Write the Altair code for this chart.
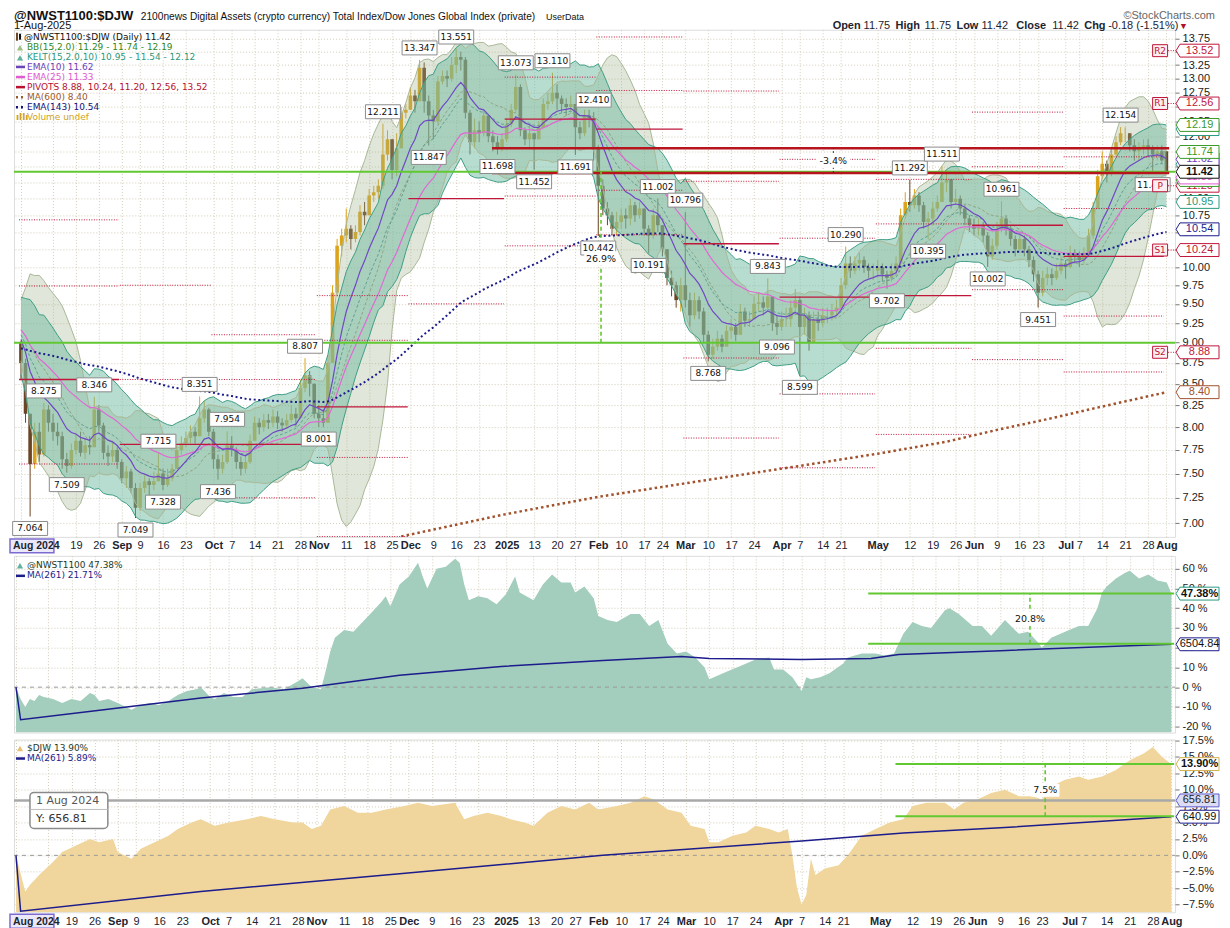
import altair as alt
import pandas as pd

# ===================== DATA =====================
closes = [
    8.75, 8.15, 7.60, 7.95, 7.70, 8.20, 8.05, 7.95, 7.90, 7.65,
    7.58, 7.75, 7.85, 7.72, 7.80, 7.78, 8.20, 8.02, 7.72, 7.68,
    7.75, 7.62, 7.45, 7.52, 7.35, 7.15, 7.35, 7.42, 7.38, 7.42,
    7.50, 7.38, 7.45, 7.55, 7.75, 7.82, 7.88, 7.95, 7.90, 8.10,
    8.20, 7.95, 7.65, 7.55, 7.62, 7.80, 7.75, 7.62, 7.55, 7.62,
    7.85, 8.05, 8.00, 8.08, 8.05, 8.12, 8.05, 8.02, 8.08, 8.15,
    8.10, 8.45, 8.60, 8.50, 8.15, 8.10, 8.05, 8.75, 9.65, 10.30,
    10.45, 10.55, 10.40, 10.50, 10.80, 10.75, 11.05, 11.10, 11.20, 11.70,
    11.95, 11.45, 11.80, 12.40, 12.45, 12.70, 12.60, 13.20, 12.60, 12.35,
    12.25, 12.95, 13.05, 13.00, 13.25, 13.40, 13.35, 12.40, 11.90, 12.10,
    12.05, 12.35, 12.00, 11.90, 11.80, 11.95, 12.20, 12.45, 12.85, 12.10,
    11.95, 12.05, 11.95, 12.15, 12.55, 12.60, 12.75, 12.65, 12.55, 12.50,
    12.55, 12.15, 12.05, 12.35, 12.30, 11.80, 11.20, 10.85, 10.75, 10.55,
    10.65, 10.75, 10.70, 10.90, 10.75, 10.85, 10.55, 10.45, 10.75, 10.60,
    10.25, 9.85, 9.75, 9.55, 9.75, 9.55, 9.35, 9.55, 9.40, 9.10,
    8.85, 8.95, 9.05, 8.95, 9.15, 9.20, 9.10, 9.40, 9.28, 9.30,
    9.50, 9.52, 9.45, 9.60, 9.25, 9.20, 9.30, 9.30, 9.45, 9.55,
    9.20, 9.35, 9.00, 9.30, 9.25, 9.35, 9.35, 9.40, 9.45, 9.75,
    10.05, 9.95, 10.05, 10.10, 10.00, 9.95, 9.95, 10.00, 9.90, 9.85,
    9.95, 10.05, 10.75, 10.95, 10.90, 11.05, 10.90, 10.65, 10.70, 10.85,
    10.95, 11.25, 11.30, 10.95, 11.00, 10.85, 10.70, 10.60, 10.55, 10.60,
    10.45, 10.15, 10.30, 10.55, 10.70, 10.55, 10.40, 10.25, 10.40, 10.25,
    10.10, 9.90, 9.65, 9.85, 9.90, 9.85, 9.95, 10.05, 10.00, 10.20,
    10.15, 10.10, 10.20, 10.45, 10.85, 11.35, 11.55, 11.40, 11.70, 11.90,
    12.05, 12.05, 11.85, 11.75, 11.80, 11.85, 11.80, 11.70, 11.75, 11.60,
    11.42,
]
highs = [
    9.02, 8.80, 8.10, 8.05, 8.05, 8.275, 8.25, 8.15, 8.05, 7.95,
    7.72, 7.82, 7.92, 7.95, 7.88, 7.90, 8.346, 8.25, 8.05, 7.80,
    7.85, 7.78, 7.65, 7.58, 7.55, 7.40, 7.40, 7.48, 7.45, 7.52,
    7.715, 7.55, 7.55, 7.60, 7.80, 7.90, 7.95, 8.02, 8.00, 8.351,
    8.30, 8.22, 7.98, 7.70, 7.70, 7.954, 7.90, 7.78, 7.68, 7.70,
    7.92, 8.12, 8.10, 8.15, 8.15, 8.20, 8.18, 8.10, 8.15, 8.25,
    8.22, 8.55, 8.807, 8.65, 8.50, 8.25, 8.20, 8.85, 9.75, 10.40,
    10.55, 10.85, 10.60, 10.60, 10.90, 10.95, 11.15, 11.20, 11.30, 12.211,
    12.10, 11.95, 12.05, 12.50, 12.55, 12.85, 12.80, 13.347, 13.30, 12.70,
    12.45, 13.05, 13.15, 13.15, 13.40, 13.551, 13.50, 13.40, 12.45, 12.30,
    12.25, 12.45, 12.35, 12.10, 12.00, 12.05, 12.30, 12.55, 13.073, 12.90,
    12.15, 12.20, 12.05, 12.25, 12.65, 12.75, 13.110, 12.90, 12.70, 12.65,
    12.70, 12.40, 12.25, 12.45, 12.45, 12.410, 11.85, 11.30, 10.95, 10.80,
    10.80, 10.85, 10.85, 11.00, 10.95, 10.95, 10.85, 10.60, 10.85, 11.002,
    10.60, 10.25, 9.95, 9.80, 9.85, 10.796, 9.65, 9.65, 9.60, 9.45,
    9.15, 9.05, 9.15, 9.10, 9.22, 9.30, 9.25, 9.50, 9.45, 9.40,
    9.60, 9.65, 9.60, 9.843, 9.60, 9.35, 9.40, 9.45, 9.55, 9.70,
    9.60, 9.45, 9.40, 9.40, 9.40, 9.45, 9.45, 9.50, 9.55, 9.85,
    10.290, 10.15, 10.15, 10.20, 10.15, 10.05, 10.05, 10.10, 10.05, 9.95,
    10.05, 10.15, 10.85, 11.10, 11.292, 11.15, 11.10, 10.95, 10.80, 10.95,
    11.05, 11.511, 11.45, 11.30, 11.15, 11.05, 10.90, 10.75, 10.70, 10.70,
    10.65, 10.50, 10.40, 10.65, 10.961, 10.75, 10.60, 10.45, 10.50, 10.45,
    10.30, 10.15, 9.95, 9.95, 10.00, 9.98, 10.05, 10.15, 10.10, 10.30,
    10.25, 10.22, 10.28, 10.55, 10.95, 11.45, 11.75, 11.60, 11.80, 12.00,
    12.154, 12.15, 12.05, 11.95, 11.90, 11.95, 11.95, 11.85, 11.85, 11.85,
    11.75,
]
lows = [
    8.55, 8.05, 7.064, 7.55, 7.62, 7.68, 7.95, 7.85, 7.80, 7.55,
    7.509, 7.55, 7.70, 7.68, 7.65, 7.70, 7.78, 7.95, 7.65, 7.58,
    7.62, 7.55, 7.40, 7.35, 7.30, 7.049, 7.12, 7.30, 7.25, 7.33,
    7.42, 7.328, 7.36, 7.42, 7.55, 7.70, 7.78, 7.82, 7.82, 7.90,
    8.05, 7.90, 7.55, 7.436, 7.50, 7.60, 7.68, 7.55, 7.48, 7.50,
    7.60, 7.85, 7.92, 7.95, 7.98, 8.00, 7.98, 7.95, 7.98, 8.05,
    8.00, 8.10, 8.40, 8.35, 8.10, 8.001, 8.00, 8.05, 8.80, 9.60,
    10.15, 10.35, 10.25, 10.35, 10.45, 10.60, 10.75, 10.95, 11.00, 11.15,
    11.60, 11.30, 11.35, 11.80, 12.30, 12.45, 12.40, 12.60, 12.40, 11.847,
    11.95, 12.20, 12.90, 12.85, 12.95, 13.10, 13.15, 12.30, 11.70, 11.80,
    11.90, 12.00, 11.90, 11.75, 11.698, 11.75, 11.90, 12.15, 12.40, 12.00,
    11.85, 11.80, 11.452, 11.95, 12.15, 12.45, 12.55, 12.45, 12.40, 12.35,
    12.40, 11.691, 11.95, 12.00, 12.15, 11.60, 10.442, 10.75, 10.60, 10.45,
    10.45, 10.55, 10.55, 10.60, 10.65, 10.70, 10.45, 10.191, 10.40, 10.50,
    10.15, 9.75, 9.60, 9.45, 9.40, 9.45, 9.20, 9.30, 9.30, 9.00,
    8.768, 8.80, 8.90, 8.88, 8.95, 9.05, 9.02, 9.10, 9.20, 9.20,
    9.30, 9.40, 9.35, 9.40, 9.15, 9.096, 9.15, 9.20, 9.20, 9.35,
    8.599, 9.10, 8.90, 9.00, 9.15, 9.20, 9.25, 9.28, 9.35, 9.45,
    9.70, 9.85, 9.90, 9.95, 9.92, 9.85, 9.82, 9.85, 9.80, 9.702,
    9.80, 9.90, 10.00, 10.70, 10.80, 10.85, 10.80, 10.55, 10.395, 10.60,
    10.80, 10.95, 11.10, 10.85, 10.90, 10.75, 10.60, 10.50, 10.45, 10.45,
    10.35, 10.002, 10.10, 10.25, 10.50, 10.45, 10.30, 10.15, 10.20, 10.15,
    10.00, 9.80, 9.451, 9.60, 9.75, 9.75, 9.82, 9.90, 9.84, 9.98,
    10.05, 10.00, 10.05, 10.15, 10.40, 10.85, 11.30, 11.25, 11.35, 11.65,
    11.85, 11.90, 11.75, 11.60, 11.60, 11.70, 11.65, 11.406, 11.60, 11.55,
    11.42,
]
open_first = 9.00          # open of 1-Aug-2024
open_last = 11.75          # open of 1-Aug-2025 (header)
pre_closes = [9.30, 9.45, 9.50, 9.35, 9.25, 9.30, 9.15, 9.05, 9.10, 9.20, 9.05, 8.95, 9.05, 9.00]
ema143_start = 8.93
atr_start = 0.22

ma600_idx = [83, 105, 126, 148, 170, 187, 202, 213, 224, 234, 250]
ma600_val = [6.87, 7.08, 7.26, 7.42, 7.58, 7.71, 7.84, 7.97, 8.09, 8.21, 8.40]

piv_start = [0, 22, 42, 65, 85, 106, 126, 145, 166, 187, 208, 228, 250]
piv_end = [21, 41, 64, 84, 105, 125, 144, 165, 186, 207, 227, 249, 250]
piv_r2 = [10.68, 9.75, 9.10, 9.61, None, None, 13.78, 12.78, 11.62, 11.30, 12.41, 11.66, 13.52]
piv_r1 = [9.74, 8.55, 8.55, 9.03, None, 13.03, 12.79, 11.27, 10.41, 10.62, 11.50, 10.85, 12.56]
piv_p = [8.55, 7.81, 7.81, 8.23, 11.00, 12.29, 12.12, 10.33, 9.59, 9.61, 10.60, 10.15, 11.20]
piv_s1 = [7.60, None, 7.25, 7.67, 9.50, 11.04, 11.13, 8.81, 8.38, 8.93, 9.69, 9.34, 10.24]
piv_s2 = [None, None, None, 6.87, None, 10.30, 10.46, 7.88, 7.56, 7.92, 8.79, 8.64, 8.88]

hl_idx = [2, 5, 10, 16, 25, 30, 31, 39, 43, 45, 62, 65, 79, 87, 89, 95, 104, 108, 112, 116,
          121, 125, 126, 137, 139, 145, 150, 163, 165, 170, 180, 189, 194, 198, 201, 211, 214, 222, 240, 247]
hl_val = [7.064, 8.275, 7.509, 8.346, 7.049, 7.715, 7.328, 8.351, 7.436, 7.954, 8.807, 8.001, 12.211, 13.347,
          11.847, 13.551, 11.698, 13.073, 11.452, 13.110, 11.691, 12.410, 10.442, 10.191, 11.002, 10.796,
          8.768, 9.843, 9.096, 8.599, 10.290, 9.702, 11.292, 10.395, 11.511, 10.002, 10.961, 9.451, 12.154, 11.406]
hl_kind = ['L', 'H', 'L', 'H', 'L', 'H', 'L', 'H', 'L', 'H', 'H', 'L', 'H', 'H', 'L', 'H', 'L', 'H', 'L', 'H',
           'L', 'H', 'L', 'L', 'H', 'H', 'L', 'H', 'L', 'L', 'H', 'L', 'H', 'L', 'H', 'L', 'H', 'L', 'H', 'L']

mid_idx = [0, 1, 2, 3, 4, 5, 6, 8, 10, 12, 14, 16, 17, 18, 20, 22, 25, 27, 29, 31, 33, 35, 37, 39, 40, 42, 43, 45,
           47, 49, 51, 55, 58, 61, 62, 64, 66, 67, 68, 69, 71, 73, 75, 77, 79, 80, 81, 83, 85, 87, 88, 89, 91, 93,
           95, 96, 97, 98, 100, 102, 104, 106, 108, 109, 112, 114, 116, 118, 120, 121, 123, 125, 126, 128, 130,
           133, 135, 137, 139, 141, 143, 145, 147, 149, 150, 152, 154, 157, 160, 163, 164, 166, 168, 170, 171,
           172, 174, 176, 179, 180, 183, 186, 188, 190, 192, 194, 196, 198, 201, 202, 204, 207, 209, 211, 214,
           217, 219, 221, 222, 224, 227, 230, 232, 234, 235, 236, 238, 240, 241, 243, 245, 247, 249, 250]
mid_pct = [0, -6, -10, -6, -7, -4, -5, -6, -8, -6, -7, -3, -4, -7, -6, -8, -11.5, -9, -8, -9, -7, -4, -2,
           -1, 0, -5, -6, -3, -5, -5, -1, 0, -1, 3, 4.5, 0, -1, 8, 18, 25, 29, 28, 33, 38, 43, 46, 41, 52, 56, 63,
           56, 50, 60, 61, 65, 63, 52, 44, 46, 45, 42, 47, 56, 48, 44, 52, 57, 53, 53, 48, 51, 45, 36, 34, 33, 37,
           37, 31, 34, 22, 17, 18, 15, 10, 4, 6, 8, 11, 14, 15, 9, 9, 5, -2, 5, 4, 5, 7, 12, 15, 17, 17, 16, 17,
           27, 33, 31, 30, 39, 40, 37, 31, 31, 26, 34, 27, 28, 23, 20, 25, 28, 31, 31, 40, 48, 51, 55, 58, 59, 55,
           57, 54, 53, 47.38]
mid_ma_idx = [0, 1, 19, 40, 62, 83, 105, 127, 144, 150, 170, 185, 191, 213, 235, 250]
mid_ma_pct = [0, -16.5, -11.5, -5.5, -0.5, 6, 10.5, 13.5, 15.5, 14.5, 14, 14.5, 16.5, 18.5, 20.5, 21.71]

bot_idx = [0, 2, 3, 5, 8, 10, 13, 16, 18, 21, 22, 25, 27, 30, 33, 35, 38, 40, 43, 46, 50, 53, 56, 60, 62, 64, 66,
           68, 71, 74, 77, 80, 84, 87, 90, 95, 97, 99, 102, 105, 107, 110, 112, 115, 118, 121, 124, 126, 130, 133,
           136, 138, 141, 144, 146, 149, 150, 152, 155, 158, 160, 163, 165, 167, 168, 169, 170, 171, 172, 173, 175,
           178, 180, 183, 186, 189, 192, 194, 197, 201, 203, 205, 208, 211, 214, 217, 220, 222, 224, 227, 230, 232,
           235, 238, 241, 244, 246, 248, 250]
bot_pct = [0, -5.5, -4.5, -3, -1, 0.5, 1.5, 2.5, 2, 2.5, 0.5, -0.5, 1, 2, 3, 4, 5, 5.5, 4.5, 5, 5.5, 6, 5.5, 5, 5,
           4, 4.5, 7, 7.5, 6.5, 6.5, 7, 7.5, 8, 7.5, 8, 5.5, 6, 6.5, 6, 5.5, 5, 4.5, 6.5, 7.5, 7, 8, 7, 7.5, 8, 9,
           8.5, 7, 6.5, 4.5, 4, 2, 2, 3, 3.5, 4.5, 4, 3.5, 4, 0, -5, -7.5, -6, -0.5, -3, -2, -1.5, 0, 3, 4, 5, 5.5,
           7.5, 8, 8, 7, 8, 8.5, 9.5, 10, 9, 9, 8.5, 10.5, 11.5, 12, 11.5, 12, 13, 14.5, 15.5, 16.5, 15, 13.9]
bot_ma_idx = [0, 1, 40, 83, 127, 170, 192, 213, 235, 250]
bot_ma_pct = [0, -8.5, -5.5, -2.8, 0, 2.2, 3.4, 4.2, 5.2, 5.89]

tick_idx = [0, 7, 12, 17, 22, 26, 31, 36, 42, 46, 51, 56, 61, 65, 71, 76, 81, 85, 90, 95, 100, 106, 112, 117, 121,
            126, 131, 136, 140, 145, 150, 155, 160, 166, 170, 175, 179, 187, 194, 199, 204, 208, 213, 218, 222, 228,
            231, 236, 241, 246, 250]
tick_lab = ["", "", "19", "26", "Sep", "9", "16", "23", "Oct", "7", "14", "21", "28", "Nov", "11", "18",
            "25", "Dec", "9", "16", "23", "2025", "13", "20", "27", "Feb", "10", "17", "24", "Mar", "10", "17", "24",
            "Apr", "7", "14", "21", "May", "12", "19", "26", "Jun", "9", "16", "23", "Jul", "7", "14", "21", "28", "Aug"]
first_tick_label = "Aug 2024"
bold_labels = ["Sep", "Oct", "Nov", "Dec", "2025", "Feb", "Mar", "Apr", "May", "Jun", "Jul", "Aug"]
price_ticks = [7.00, 7.25, 7.50, 7.75, 8.00, 8.25, 8.50, 8.75, 9.00, 9.25, 9.50, 9.75, 10.00, 10.25, 10.50,
               10.75, 11.00, 11.25, 11.50, 11.75, 12.00, 12.25, 12.50, 12.75, 13.00, 13.25, 13.50, 13.75]
mid_ticks = [-20, -10, 0, 10, 20, 30, 40, 50, 60]
bot_ticks = [-7.5, -5.0, -2.5, 0.0, 2.5, 5.0, 7.5, 10.0, 12.5, 15.0, 17.5]

# ===================== derived indicators =====================
n = len(closes)
opens = [open_first] + closes[:-1]
opens[-1] = open_last
H = [max(h, o, c) for h, o, c in zip(highs, opens, closes)]
L = [min(l, o, c) for l, o, c in zip(lows, opens, closes)]


def ema_series(vals, span, seed):
    a = 2.0 / (span + 1)
    out, e = [], seed
    for v in vals:
        e += a * (v - e)
        out.append(e)
    return out


npre = len(pre_closes)
full = pre_closes + closes
sfull = pd.Series(full)
sma15 = sfull.rolling(15).mean().tolist()[npre:]
sd15 = sfull.rolling(15).std(ddof=0).tolist()[npre:]
ema15 = ema_series(full, 15, full[0])[npre:]
ema10 = ema_series(full, 10, full[0])[npre:]
ema25 = ema_series(full, 25, full[0])[npre:]
ema143 = ema_series(closes, 143, ema143_start)
atr, a_, prev = [], atr_start, pre_closes[-1]
for h, l, c in zip(H, L, closes):
    tr = max(h - l, abs(h - prev), abs(l - prev))
    a_ = (a_ * 9 + tr) / 10
    atr.append(a_)
    prev = c

dfm = pd.DataFrame({
    "i": list(range(n)), "o": opens, "h": H, "l": L, "c": closes,
    "bbu": [m + 2 * s for m, s in zip(sma15, sd15)], "bbm": sma15,
    "bbl": [m - 2 * s for m, s in zip(sma15, sd15)],
    "kcu": [m + 2 * a for m, a in zip(ema15, atr)], "kcm": ema15,
    "kcl": [m - 2 * a for m, a in zip(ema15, atr)],
    "e10": ema10, "e25": ema25, "e143": ema143,
})
dfm["dir"] = ["up" if c >= o else "down" for o, c in zip(opens, closes)]
dfu = dfm[dfm.dir == "up"]
dfd = dfm[dfm.dir == "down"]

# ===================== layout / style =====================
W = 1163
HM, HMID, HBOT = 508, 177, 173
XDOM = [-0.43, 250.8]
GRID = "#d3ccb8"
BG = "#f8f2e1"
UP, DOWN = "#dba41a", "#6a4424"
CRIM = "#c0163a"
GREEN = "#62c832"
NAVY = "#1c1c8c"
FONT = "Liberation Sans"
LFONT = "DejaVu Sans"
TAG = "M -1 0 L -0.82 -0.3 L 1 -0.3 L 1 0.3 L -0.82 0.3 Z"
TAG_W = 43
RECT = "M -1 -0.4 L 1 -0.4 L 1 0.4 L -1 0.4 Z"
ONE = pd.DataFrame({"k": [0]})

xs = alt.Scale(domain=XDOM, nice=False, zero=False, clamp=True)
lab_expr = ("[" + ",".join("'%s'" % t for t in tick_lab) + "][indexof(["
            + ",".join(str(v) for v in tick_idx) + "], datum.value)]")
bold_test = ("indexof([" + ",".join(str(v) for v, t in zip(tick_idx, tick_lab) if t in bold_labels)
             + "], datum.value) >= 0")


def xaxis(labels=True):
    return alt.Axis(values=tick_idx, labels=labels, labelExpr=lab_expr,
                    labelFontWeight={"condition": {"test": bold_test, "value": "bold"}, "value": "normal"},
                    labelOverlap=False, labelFlush=False, grid=True, gridDash=[1, 2], gridColor=GRID,
                    ticks=False, domain=False, labelPadding=3, labelFont=FONT, labelFontSize=11,
                    labelColor="#1c2430", title=None)


def yaxis(vals, expr=None, fmt=None):
    kw = dict(orient="right", values=vals, grid=True, gridDash=[1, 2], gridColor=GRID, tickSize=4,
              tickColor="#777", domain=False, labelFont=FONT, labelFontSize=11, labelColor="#222",
              labelPadding=3, labelOverlap=False, title=None)
    if expr:
        kw["labelExpr"] = expr
    if fmt:
        kw["format"] = fmt
    return alt.Axis(**kw)


def txt(s, x, y, size=11, color="#111", weight="normal", align="left", font=FONT, baseline="middle"):
    return alt.Chart(ONE).mark_text(text=s, fontSize=size, color=color, fontWeight=weight, align=align,
                                    font=font, baseline=baseline).encode(x=alt.value(x), y=alt.value(y))


def seg(x1, y1, x2, y2, color, w=1.0, dash=None):
    kw = dict(color=color, strokeWidth=w)
    if dash:
        kw["strokeDash"] = dash
    return alt.Chart(ONE).mark_rule(**kw).encode(x=alt.value(x1), x2=alt.value(x2),
                                                 y=alt.value(y1), y2=alt.value(y2))


def box(x1, y1, x2, y2, fill="white", stroke="#888", sw=1.0, r=0):
    return alt.Chart(ONE).mark_rect(fill=fill, stroke=stroke, strokeWidth=sw, cornerRadius=r).encode(
        x=alt.value(x1), x2=alt.value(x2), y=alt.value(y1), y2=alt.value(y2))


def tag(v, text, col, Yf, bold=False, txtcol=None, fill="white"):
    d = pd.DataFrame({"v": [v]})
    cx = W + 1 + TAG_W / 2
    b = alt.Chart(d).mark_point(shape=TAG, size=TAG_W * TAG_W, filled=True, fill=fill, stroke=col, strokeWidth=1,
                                opacity=1).encode(x=alt.value(cx), y=Yf("v"))
    t = alt.Chart(d).mark_text(text=text, font=FONT, fontSize=11, fontWeight="bold" if bold else "normal",
                               color=txtcol or col).encode(x=alt.value(cx + 2), y=Yf("v"))
    return [b, t]


def first_label(hh):
    return [box(-4, hh + 2, 40, hh + 16, fill="#ebe8fa", stroke="#7c6cd2", sw=1.5),
            txt(first_tick_label, -1, hh + 9.5, size=10.5, weight="bold", color="#1c2430")]


# ===================== MAIN PANEL =====================
ys = alt.Scale(type="log", domain=[6.866, 13.92], nice=False, clamp=True)
ya = yaxis(price_ticks, fmt=".2f")


def YM(f):
    return alt.Y(f + ":Q", scale=ys, axis=ya)


XM = alt.X("i:Q", scale=xs, axis=xaxis(True))

L_main = []
L_main.append(alt.Chart(dfu).mark_rule(color=UP, strokeWidth=1, clip=True).encode(x=XM, y=YM("l"), y2="h:Q"))
L_main.append(alt.Chart(dfd).mark_rule(color=DOWN, strokeWidth=1, clip=True).encode(x=XM, y=YM("l"), y2="h:Q"))
L_main.append(alt.Chart(dfu).mark_bar(color=UP, size=3.6, clip=True).encode(x=XM, y=YM("o"), y2="c:Q"))
L_main.append(alt.Chart(dfd).mark_bar(color=DOWN, size=3.6, clip=True).encode(x=XM, y=YM("o"), y2="c:Q"))
L_main.append(alt.Chart(dfm).mark_area(color="#9fb08a", opacity=0.32, clip=True).encode(x=XM, y=YM("bbl"), y2="bbu:Q"))
L_main.append(alt.Chart(dfm).mark_area(color="#6fbaa2", opacity=0.5, clip=True).encode(x=XM, y=YM("kcl"), y2="kcu:Q"))


def mline(f, color, w=1.0, dash=None, data=dfm):
    kw = dict(color=color, strokeWidth=w, clip=True)
    if dash:
        kw["strokeDash"] = dash
    return alt.Chart(data).mark_line(**kw).encode(x=XM, y=YM(f))


L_main += [mline("bbu", "#a9b897"), mline("bbl", "#a9b897"), mline("bbm", "#8fa383", 1, [3, 2]),
           mline("kcu", "#3f9f86"), mline("kcl", "#3f9f86"), mline("kcm", "#5f9f92", 1, [3, 2]),
           mline("e25", "#e06ad4", 1.2), mline("e10", "#7048c4", 1.2),
           mline("e143", NAVY, 2, [2, 2.6])]
dma = pd.DataFrame({"i": ma600_idx, "v": ma600_val})
L_main.append(alt.Chart(dma).mark_line(color="#a0522d", strokeWidth=2.5, strokeDash=[2.5, 3], clip=True).encode(x=XM, y=YM("v")))

prow = []
for k in range(len(piv_start)):
    for name, arr in (("P", piv_p), ("R1", piv_r1), ("S1", piv_s1), ("R2", piv_r2), ("S2", piv_s2)):
        if arr[k] is not None:
            prow.append({"x1": piv_start[k] - 0.42, "x2": piv_end[k] + 0.42, "v": arr[k],
                         "kind": "solid" if name == "P" else "dot"})
dp = pd.DataFrame(prow)
XP = alt.X("x1:Q", scale=xs, axis=xaxis(True))
L_main.append(alt.Chart(dp[dp.kind == "dot"]).mark_rule(color=CRIM, strokeWidth=1, strokeDash=[1, 1.5], clip=True).encode(x=XP, x2="x2:Q", y=YM("v")))
L_main.append(alt.Chart(dp[dp.kind == "solid"]).mark_rule(color=CRIM, strokeWidth=1.3, clip=True).encode(x=XP, x2="x2:Q", y=YM("v")))

# annotations
green_lv = pd.DataFrame({"v": [11.42, 9.00]})
L_main.append(alt.Chart(green_lv).mark_rule(color=GREEN, strokeWidth=2).encode(x=alt.value(0), x2=alt.value(W), y=YM("v")))
user_lv = pd.DataFrame({"x1": [102.8, 102.8], "x2": [250.6, 250.6], "v": [11.80, 11.40]})
L_main.append(alt.Chart(user_lv).mark_rule(color="#b8141e", strokeWidth=2.5).encode(x=XP, x2="x2:Q", y=YM("v")))
vd = pd.DataFrame({"i": [126.6], "a": [9.00], "b": [11.42]})
L_main.append(alt.Chart(vd).mark_rule(color=GREEN, strokeWidth=1.6, strokeDash=[4, 3]).encode(x=XM, y=YM("a"), y2="b:Q"))
vd2 = pd.DataFrame({"i": [177.3], "a": [11.40], "b": [11.80]})
L_main.append(alt.Chart(vd2).mark_rule(color="#333", strokeWidth=1, strokeDash=[2, 2]).encode(x=XM, y=YM("a"), y2="b:Q"))

for kind, off in (("H", -12), ("L", 12)):
    d = pd.DataFrame({"i": [i for i, k in zip(hl_idx, hl_kind) if k == kind],
                      "v": [v for v, k in zip(hl_val, hl_kind) if k == kind]})
    L_main.append(alt.Chart(d).mark_point(shape=RECT, size=1225, filled=True, fill="white", stroke="#8c8c8c",
                                          strokeWidth=1, opacity=1, yOffset=off).encode(x=XM, y=YM("v")))
    L_main.append(alt.Chart(d).mark_text(font=LFONT, fontSize=9, color="#111", yOffset=off).encode(
        x=XM, y=YM("v"), text=alt.Text("v:Q", format=".3f")))

for i_, v_, s_ in ((126.6, 10.12, "26.9%"), (177.3, 11.60, "-3.4%")):
    d = pd.DataFrame({"i": [i_], "v": [v_]})
    L_main.append(alt.Chart(d).mark_point(shape=RECT, size=1000, filled=True, fill="white", stroke="white",
                                          opacity=1).encode(x=XM, y=YM("v")))
    L_main.append(alt.Chart(d).mark_text(text=s_, font=LFONT, fontSize=9.5, color="#111").encode(x=XM, y=YM("v")))

# legend (top-left)
leg_text = ["@NWST1100:$DJW (Daily) 11.42", "BB(15,2.0) 11.29 - 11.74 - 12.19",
            "KELT(15,2.0,10) 10.95 - 11.54 - 12.12", "EMA(10) 11.62", "EMA(25) 11.33",
            "PIVOTS 8.88, 10.24, 11.20, 12.56, 13.52", "MA(600) 8.40", "EMA(143) 10.54", "Volume undef"]
leg_col = ["#111111", "#2f8a1c", "#2a9a80", "#6a42bc", "#e05ad2", "#b8102e", "#9a5a2a", "#12127e", "#d0a020"]
for k, (s_, c_) in enumerate(zip(leg_text, leg_col)):
    yk = 7 + 10.1 * k
    L_main.append(txt(s_, 10 if k == 0 else 13, yk, size=9, color=c_, font=LFONT))
    if k == 0:
        L_main.append(seg(3, yk - 4, 3, yk + 4, "#6d4826", 2))
        L_main.append(seg(6, yk - 3, 6, yk + 3, "#111", 2))
    elif k in (1, 2):
        L_main.append(alt.Chart(ONE).mark_point(shape="triangle-up", filled=True, size=40, opacity=1,
                                                color="#9fbf86" if k == 1 else "#5fb39c").encode(x=alt.value(6), y=alt.value(yk + 1)))
    elif k in (3, 4, 5):
        L_main.append(seg(2, yk, 11, yk, c_, 2.5))
    elif k in (6, 7):
        L_main.append(seg(2, yk, 11, yk, c_, 2.5, [2, 3]))
    else:
        L_main.append(txt("ıllı", 2, yk, size=9, color=c_, font=LFONT, weight="bold"))

# header (top-anchored so that the chart starts right at the page margin)
L_main.append(txt("@NWST1100:$DJW", 0, -20, size=13, weight="bold", baseline="top"))
L_main.append(txt("2100news Digital Assets (crypto currency) Total Index/Dow Jones Global Index (private)",
                  127, -18, size=10.2, baseline="top"))
L_main.append(txt("UserData", 533, -16.5, size=9, baseline="top"))
L_main.append(txt("1-Aug-2025", 0, -10, size=11, baseline="top"))
L_main.append(txt("©StockCharts.com", 1203, -20, size=11, color="#666", align="right", baseline="top"))
for s_, x_, b_ in (("Open", 820, True), ("11.75", 851, False), ("High", 883, True), ("11.75", 912, False),
                   ("Low", 944, True), ("11.42", 969, False), ("Close", 1004, True), ("11.42", 1040, False),
                   ("Chg", 1072, True), ("-0.18 (-1.51%)", 1096, False)):
    L_main.append(txt(s_, x_, -10, size=11, weight="bold" if b_ else "normal", color="#1c2430", baseline="top"))
L_main.append(txt("▼", 1167, -8, size=9, color="#b0102a", baseline="top"))

# pivot labels R2..S2
for nm, v_ in (("R2", 13.52), ("R1", 12.56), ("P", 11.20), ("S1", 10.24), ("S2", 8.88)):
    d = pd.DataFrame({"v": [v_]})
    L_main.append(alt.Chart(d).mark_rule(color=CRIM, strokeDash=[1, 1.5]).encode(x=alt.value(W - 7), x2=alt.value(W + 2), y=YM("v")))
    L_main.append(alt.Chart(d).mark_point(shape="M -1 -0.8 L 1 -0.8 L 1 0.8 L -1 0.8 Z", size=225, filled=True,
                                          fill="#fbeef0", stroke=CRIM, strokeWidth=1, opacity=1).encode(x=alt.value(W - 15), y=YM("v")))
    L_main.append(alt.Chart(d).mark_text(text=nm, font=LFONT, fontSize=9, color=CRIM).encode(x=alt.value(W - 15), y=YM("v")))

# right-axis tags
for v_, s_, c_ in ((8.40, "8.40", "#a0522d"), (8.88, "8.88", CRIM), (10.24, "10.24", CRIM), (10.54, "10.54", NAVY),
                   (10.95, "10.95", "#2a9a80"), (11.20, "11.20", CRIM), (11.29, "11.29", "#3a9a2a"),
                   (11.33, "11.33", "#e05ad2"), (11.54, "11.54", "#2a9a80"), (11.62, "11.62", "#6a42bc"),
                   (11.74, "11.74", "#3a9a2a"), (12.12, "12.12", "#2a9a80"), (12.19, "12.19", "#3a9a2a"),
                   (12.56, "12.56", CRIM), (13.52, "13.52", CRIM)):
    L_main += tag(v_, s_, c_, YM)
L_main += tag(11.42, "11.42", "#111", YM, bold=True)
L_main += first_label(HM)

main = alt.layer(*L_main).properties(width=W, height=HM)

# ===================== MIDDLE PANEL =====================
yms = alt.Scale(domain=[-23.0, 66.5], nice=False, zero=False, clamp=True)
yma = yaxis(mid_ticks, expr="datum.value + ' %'")


def YMD(f):
    return alt.Y(f + ":Q", scale=yms, axis=yma)


XMD = alt.X("i:Q", scale=xs, axis=xaxis(False))
dmid = pd.DataFrame({"i": mid_idx, "p": mid_pct})
dmidma = pd.DataFrame({"i": mid_ma_idx, "p": mid_ma_pct})
L_mid = [
    alt.Chart(dmid).mark_area(color="#a3cdbd", opacity=1, clip=True).encode(x=XMD, y=YMD("p"), y2=alt.datum(-23.0)),
    alt.Chart(pd.DataFrame({"v": [0]})).mark_rule(color="#9a9a9a", strokeDash=[4, 4]).encode(x=alt.value(0), x2=alt.value(W), y=YMD("v")),
    alt.Chart(dmidma).mark_line(color=NAVY, strokeWidth=1.5, clip=True).encode(x=XMD, y=YMD("p")),
    alt.Chart(pd.DataFrame({"x1": [184.4, 184.4], "x2": [250.6, 250.6], "v": [47.38, 21.97]})).mark_rule(
        color=GREEN, strokeWidth=2).encode(x=alt.X("x1:Q", scale=xs, axis=xaxis(False)), x2="x2:Q", y=YMD("v")),
    alt.Chart(pd.DataFrame({"i": [219.4], "a": [21.97], "b": [47.38]})).mark_rule(
        color=GREEN, strokeWidth=1.6, strokeDash=[4, 3]).encode(x=XMD, y=YMD("a"), y2="b:Q"),
    alt.Chart(pd.DataFrame({"i": [219.4], "v": [34.7]})).mark_point(shape=RECT, size=900, filled=True, fill="white",
                                                                   stroke="white", opacity=1).encode(x=XMD, y=YMD("v")),
    alt.Chart(pd.DataFrame({"i": [219.4], "v": [34.7]})).mark_text(text="20.8%", font=LFONT, fontSize=9.5,
                                                                  color="#111").encode(x=XMD, y=YMD("v")),
    alt.Chart(ONE).mark_point(shape="triangle-up", filled=True, size=40, opacity=1, color="#5fb39c").encode(x=alt.value(6), y=alt.value(10)),
    txt("@NWST1100 47.38%", 13, 9, size=9, color="#1d3a2a", font=LFONT),
    seg(2, 20, 11, 20, NAVY, 2.5),
    txt("MA(261) 21.71%", 13, 19, size=9, color=NAVY, font=LFONT),
]
L_mid += tag(21.71, "6504.84", NAVY, YMD, txtcol="#111")
L_mid += tag(47.38, "47.38%", "#2a9a80", YMD, bold=True, txtcol="#111")
mid = alt.layer(*L_mid).properties(width=W, height=HMID)

# ===================== BOTTOM PANEL =====================
ybs = alt.Scale(domain=[-8.67, 17.64], nice=False, zero=False, clamp=True)
yba = yaxis(bot_ticks, expr="format(datum.value, '.1f') + '%'")


def YB(f):
    return alt.Y(f + ":Q", scale=ybs, axis=yba)


XB = alt.X("i:Q", scale=xs, axis=xaxis(True))
dbot = pd.DataFrame({"i": bot_idx, "p": bot_pct})
dbotma = pd.DataFrame({"i": bot_ma_idx, "p": bot_ma_pct})
L_bot = [
    alt.Chart(dbot).mark_area(color="#f0d69c", opacity=1, clip=True).encode(x=XB, y=YB("p"), y2=alt.datum(-8.67)),
    alt.Chart(pd.DataFrame({"v": [0]})).mark_rule(color="#9a9a9a", strokeDash=[4, 4]).encode(x=alt.value(0), x2=alt.value(W), y=YB("v")),
    alt.Chart(dbotma).mark_line(color=NAVY, strokeWidth=1.5, clip=True).encode(x=XB, y=YB("p")),
    alt.Chart(pd.DataFrame({"v": [8.37]})).mark_rule(color="#a8a8a8", strokeWidth=2.5).encode(x=alt.value(0), x2=alt.value(W), y=YB("v")),
    alt.Chart(pd.DataFrame({"x1": [190.3, 190.3], "x2": [250.6, 250.6], "v": [13.90, 5.95]})).mark_rule(
        color=GREEN, strokeWidth=2).encode(x=alt.X("x1:Q", scale=xs, axis=xaxis(True)), x2="x2:Q", y=YB("v")),
    alt.Chart(pd.DataFrame({"i": [222.7], "a": [5.95], "b": [13.90]})).mark_rule(
        color=GREEN, strokeWidth=1.6, strokeDash=[4, 3]).encode(x=XB, y=YB("a"), y2="b:Q"),
    alt.Chart(pd.DataFrame({"i": [222.7], "v": [9.9]})).mark_point(shape=RECT, size=700, filled=True, fill="white",
                                                                  stroke="white", opacity=1).encode(x=XB, y=YB("v")),
    alt.Chart(pd.DataFrame({"i": [222.7], "v": [9.9]})).mark_text(text="7.5%", font=LFONT, fontSize=9.5,
                                                                 color="#111").encode(x=XB, y=YB("v")),
    alt.Chart(ONE).mark_point(shape="triangle-up", filled=True, size=40, opacity=1, color="#e6c074").encode(x=alt.value(6), y=alt.value(9)),
    txt("$DJW 13.90%", 13, 8, size=9, color="#1d3a2a", font=LFONT),
    seg(2, 19, 11, 19, NAVY, 2.5),
    txt("MA(261) 5.89%", 13, 18, size=9, color=NAVY, font=LFONT),
    box(16, 53, 94, 89, fill="white", stroke="#8a8a8a", sw=1.5, r=4),
    seg(16, 70, 94, 70, "#bdbdbd", 1),
    txt("1 Aug 2024", 22, 62, size=11, color="#555", font=LFONT),
    txt("Y: 656.81", 22, 80, size=11, color="#333", font=LFONT),
]
L_bot += tag(5.89, "640.99", NAVY, YB, txtcol="#111")
L_bot += tag(8.37, "656.81", "#5a5ad0", YB, txtcol="#222", fill="#dcdcf4")
L_bot += tag(13.90, "13.90%", "#d4b050", YB, bold=True, txtcol="#111")
L_bot += first_label(HBOT)
bot = alt.layer(*L_bot).properties(width=W, height=HBOT)

chart = alt.vconcat(main, mid, bot, spacing=0).resolve_scale(x="independent", y="independent").configure_view(
    stroke="#8c8c8c", fill=BG).configure(padding={"left": 0, "top": 0, "right": 0, "bottom": 0}, background="white")

chart.save("out.html", embed_options={"renderer": "svg", "actions": False})
